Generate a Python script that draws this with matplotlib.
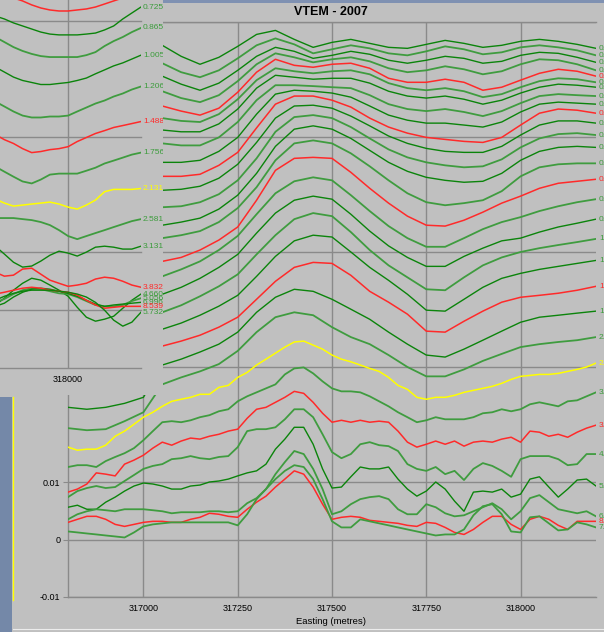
import matplotlib
matplotlib.use("Agg")
import matplotlib.pyplot as plt
from matplotlib.patches import Rectangle
from matplotlib.lines import Line2D
from matplotlib.transforms import ScaledTranslation
from matplotlib.ticker import NullLocator

plt.rcParams['font.family'] = ['Liberation Sans', 'DejaVu Sans']

BG = '#c0c0c0'
GRID = '#8a8a8a'
GREEN_DARK = '#0b840b'
GREEN_LIGHT = '#3f9c3f'
RED = '#ff2a2a'
YELLOW = '#ffff00'
LABEL_GREEN = '#3c9c3c'

# ---------------- main profile (VTEM - 2007) ----------------
# early channels are smooth: 50 m samples
easting = [316800, 316850, 316900, 316950, 317000, 317050, 317100, 317150,
           317200, 317250, 317300, 317350, 317400, 317450, 317500, 317550,
           317600, 317650, 317700, 317750, 317800, 317850, 317900, 317950,
           318000, 318050, 318100, 318150, 318200]

# late (noisy) channels: 25 m samples
easting_fine = [316800, 316825, 316850, 316875, 316900, 316925, 316950, 316975,
                317000, 317025, 317050, 317075, 317100, 317125, 317150, 317175,
                317200, 317225, 317250, 317275, 317300, 317325, 317350, 317375,
                317400, 317425, 317450, 317475, 317500, 317525, 317550, 317575,
                317600, 317625, 317650, 317675, 317700, 317725, 317750, 317775,
                317800, 317825, 317850, 317875, 317900, 317925, 317950, 317975,
                318000, 318025, 318050, 318075, 318100, 318125, 318150, 318175,
                318200]

ch01 = [66.5, 69.2, 70.6, 69.2, 66.5, 62.7, 50.3, 42.9, 49.3, 61.4, 78.0, 84.5, 70.6, 60.2, 66.5, 70.6, 65.2, 60.2, 59.0, 63.9, 69.2, 65.2, 60.2, 62.7, 67.9, 70.6, 67.9, 63.9, 59.0]
ch02 = [46.5, 48.3, 49.3, 48.3, 46.5, 43.8, 36.6, 33.1, 38.0, 48.3, 62.7, 72.0, 63.9, 53.4, 57.9, 62.7, 59.0, 53.4, 51.3, 55.6, 61.4, 57.9, 52.4, 54.5, 60.2, 62.7, 60.2, 56.7, 51.3]
ch03 = [36.6, 38.0, 38.8, 38.0, 35.8, 33.8, 28.8, 25.5, 29.4, 38.0, 50.3, 60.2, 55.6, 48.3, 51.3, 55.6, 52.4, 46.5, 43.8, 46.5, 50.3, 48.3, 43.8, 45.5, 51.3, 54.5, 53.4, 49.3, 44.6]
ch04 = [27.7, 28.8, 29.4, 28.2, 26.6, 25.0, 21.8, 20.1, 23.1, 30.6, 42.9, 53.4, 49.3, 44.6, 47.4, 49.3, 45.5, 39.6, 36.6, 38.0, 41.2, 38.8, 35.1, 37.3, 42.9, 47.4, 46.5, 42.9, 38.0]
ch05 = [20.9, 21.8, 22.2, 21.3, 20.1, 18.6, 16.8, 15.5, 17.8, 24.5, 36.6, 47.4, 42.0, 40.4, 42.9, 43.8, 39.6, 32.4, 29.9, 29.9, 31.8, 29.9, 25.5, 27.1, 31.2, 35.8, 38.8, 37.3, 33.8]
ch06 = [16.5, 17.1, 17.1, 16.5, 15.5, 14.6, 13.8, 13.5, 15.8, 21.3, 31.2, 39.6, 37.3, 35.8, 37.3, 38.0, 35.1, 29.4, 26.6, 25.5, 26.6, 25.0, 22.2, 23.6, 27.1, 30.6, 32.4, 31.8, 29.9]
ch07 = [13.0, 13.5, 13.5, 13.0, 12.2, 11.5, 11.1, 11.1, 13.0, 17.5, 26.6, 34.4, 33.1, 31.8, 32.4, 32.4, 29.4, 25.0, 22.7, 21.8, 22.7, 21.3, 19.3, 20.9, 24.1, 27.1, 28.8, 28.2, 27.1]
ch08 = [9.92, 10.4, 10.4, 9.92, 9.34, 8.80, 8.45, 8.45, 9.92, 13.5, 20.9, 28.2, 28.2, 27.7, 27.1, 26.6, 23.1, 19.3, 17.5, 16.8, 17.5, 16.5, 15.2, 16.8, 19.7, 22.7, 23.6, 23.1, 22.7]
ch09 = [6.92, 7.21, 7.21, 6.92, 6.52, 6.02, 6.02, 6.27, 7.50, 9.92, 15.8, 23.6, 25.5, 25.0, 24.1, 22.2, 18.6, 15.5, 14.0, 13.2, 13.2, 12.7, 12.2, 13.5, 16.5, 19.3, 20.1, 19.7, 19.3]
ch10 = [4.93, 5.13, 5.13, 4.93, 4.74, 4.55, 4.55, 4.74, 5.67, 7.35, 12.0, 19.3, 22.7, 22.7, 20.9, 18.2, 14.6, 12.2, 10.8, 9.92, 9.53, 9.16, 8.97, 9.92, 12.7, 16.1, 17.5, 17.1, 16.1]
ch11 = [3.73, 3.88, 3.88, 3.73, 3.58, 3.44, 3.51, 3.73, 4.38, 5.79, 8.97, 14.6, 18.6, 18.9, 17.8, 15.2, 12.5, 10.2, 8.80, 7.96, 7.50, 7.35, 7.35, 8.29, 10.4, 12.7, 13.8, 13.8, 13.2]
ch12 = [2.66, 2.77, 2.77, 2.66, 2.55, 2.45, 2.50, 2.71, 3.18, 4.20, 6.52, 11.1, 14.9, 15.5, 14.6, 12.2, 9.72, 7.80, 6.65, 6.02, 5.67, 5.45, 5.56, 6.39, 8.12, 9.72, 10.6, 10.8, 10.4]
ch13 = [1.86, 1.93, 1.93, 1.86, 1.78, 1.71, 1.82, 1.97, 2.36, 3.12, 4.83, 8.29, 11.7, 12.5, 11.7, 9.72, 7.65, 6.02, 5.03, 4.46, 4.20, 4.04, 4.12, 4.83, 6.27, 7.50, 8.12, 8.29, 8.12]
ch14 = [1.43, 1.49, 1.49, 1.43, 1.38, 1.32, 1.40, 1.52, 1.82, 2.41, 3.66, 6.27, 8.80, 9.34, 8.80, 7.21, 5.56, 4.20, 3.24, 2.71, 2.55, 2.66, 2.82, 3.38, 4.55, 5.45, 5.79, 5.90, 5.90]
ch15 = [0.897, 0.934, 0.934, 0.897, 0.862, 0.829, 0.897, 1.04, 1.27, 1.65, 2.82, 5.13, 6.52, 6.65, 6.52, 4.93, 3.58, 2.66, 2.05, 1.71, 1.68, 1.89, 2.22, 2.66, 3.06, 3.58, 3.96, 4.12, 4.29]
ch16 = [0.639, 0.665, 0.665, 0.639, 0.627, 0.614, 0.706, 0.829, 1.04, 1.38, 2.13, 3.24, 4.12, 4.46, 4.20, 3.12, 2.27, 1.68, 1.32, 1.11, 1.11, 1.32, 1.58, 1.82, 2.01, 2.27, 2.50, 2.71, 2.88]
ch17 = [0.455, 0.474, 0.474, 0.455, 0.438, 0.429, 0.493, 0.590, 0.735, 0.953, 1.46, 2.18, 2.82, 3.06, 2.88, 2.13, 1.52, 1.13, 0.897, 0.750, 0.750, 0.916, 1.08, 1.25, 1.32, 1.49, 1.65, 1.78, 1.93]
ch18 = [0.318, 0.331, 0.331, 0.318, 0.306, 0.299, 0.344, 0.412, 0.503, 0.639, 0.953, 1.40, 1.93, 2.18, 2.05, 1.49, 1.04, 0.765, 0.602, 0.474, 0.465, 0.602, 0.765, 0.897, 1.00, 1.08, 1.15, 1.22, 1.30]
ch19 = [0.227, 0.236, 0.236, 0.227, 0.218, 0.213, 0.241, 0.282, 0.338, 0.420, 0.614, 0.916, 1.25, 1.40, 1.35, 1.00, 0.735, 0.567, 0.429, 0.312, 0.306, 0.388, 0.493, 0.590, 0.652, 0.706, 0.750, 0.796, 0.845]
ch20 = [0.113, 0.117, 0.122, 0.132, 0.143, 0.152, 0.168, 0.189, 0.222, 0.271, 0.388, 0.556, 0.735, 0.812, 0.796, 0.627, 0.455, 0.366, 0.288, 0.205, 0.201, 0.250, 0.306, 0.366, 0.404, 0.420, 0.438, 0.465, 0.503]
ch21 = [0.0446, 0.0429, 0.0446, 0.0483, 0.0545, 0.104, 0.117, 0.135, 0.158, 0.201, 0.299, 0.404, 0.474, 0.455, 0.388, 0.318, 0.260, 0.201, 0.158, 0.127, 0.122, 0.143, 0.171, 0.205, 0.245, 0.271, 0.282, 0.294, 0.306]
ch22 = [0.0294, 0.0282, 0.0288, 0.0338, 0.0404, 0.0706, 0.0812, 0.0916, 0.106, 0.138, 0.201, 0.271, 0.299, 0.282, 0.222, 0.182, 0.158, 0.127, 0.100, 0.0829, 0.0829, 0.0953, 0.113, 0.130, 0.149, 0.158, 0.165, 0.171, 0.182]

ch23 = [0.0201, 0.0189, 0.0193, 0.0193, 0.0209, 0.0250, 0.0277, 0.0318, 0.0366, 0.0404,
        0.0455, 0.0503, 0.0524, 0.0545, 0.0579, 0.0579, 0.0665, 0.0692, 0.0812, 0.0897,
        0.104, 0.117, 0.132, 0.149, 0.165, 0.168, 0.155, 0.143, 0.127, 0.117,
        0.111, 0.104, 0.0972, 0.0916, 0.0812, 0.0692, 0.0639, 0.0545, 0.0524, 0.0545,
        0.0545, 0.0567, 0.0602, 0.0627, 0.0652, 0.0679, 0.0721, 0.0780, 0.0829, 0.0845,
        0.0862, 0.0862, 0.0880, 0.0916, 0.0953, 0.100, 0.108]
ch24 = [0.0135, 0.0140, 0.0140, 0.0135, 0.0152, 0.0165, 0.0178, 0.0197, 0.0231, 0.0277,
        0.0331, 0.0338, 0.0331, 0.0344, 0.0366, 0.0381, 0.0412, 0.0429, 0.0503, 0.0556,
        0.0602, 0.0652, 0.0706, 0.0862, 0.0972, 0.0992, 0.0880, 0.0750, 0.0652, 0.0614,
        0.0614, 0.0602, 0.0556, 0.0503, 0.0455, 0.0404, 0.0366, 0.0331, 0.0344, 0.0366,
        0.0351, 0.0351, 0.0351, 0.0366, 0.0396, 0.0404, 0.0429, 0.0412, 0.0429, 0.0474,
        0.0493, 0.0474, 0.0455, 0.0503, 0.0513, 0.0556, 0.0602]
ch25 = [0.00824, 0.00877, 0.00965, 0.0120, 0.0117, 0.0113, 0.0143, 0.0155, 0.0171, 0.0197,
        0.0222, 0.0209, 0.0227, 0.0241, 0.0236, 0.0250, 0.0260, 0.0277, 0.0288, 0.0358,
        0.0429, 0.0446, 0.0493, 0.0545, 0.0614, 0.0590, 0.0493, 0.0396, 0.0331, 0.0344,
        0.0331, 0.0344, 0.0331, 0.0338, 0.0331, 0.0277, 0.0222, 0.0201, 0.0213, 0.0227,
        0.0213, 0.0227, 0.0205, 0.0222, 0.0227, 0.0222, 0.0236, 0.0245, 0.0222, 0.0277,
        0.0271, 0.0250, 0.0260, 0.0245, 0.0271, 0.0294, 0.0312]
ch26 = [0.00737, 0.00842, 0.00895, 0.00930, 0.00895, 0.00912, 0.0102, 0.0115, 0.0130, 0.0138,
        0.0143, 0.0158, 0.0161, 0.0168, 0.0161, 0.0158, 0.0165, 0.0168, 0.0201, 0.0277,
        0.0288, 0.0288, 0.0299, 0.0351, 0.0429, 0.0429, 0.0366, 0.0260, 0.0182, 0.0161,
        0.0175, 0.0213, 0.0222, 0.0209, 0.0205, 0.0186, 0.0143, 0.0130, 0.0125, 0.0135,
        0.0117, 0.0125, 0.0104, 0.0130, 0.0146, 0.0138, 0.0125, 0.0111, 0.0158, 0.0168,
        0.0168, 0.0168, 0.0158, 0.0140, 0.0143, 0.0175, 0.0175]
ch27 = [0.00561, 0.00596, 0.00526, 0.00526, 0.00649, 0.00737, 0.00842, 0.00930, 0.00982, 0.00965,
        0.00930, 0.00877, 0.00877, 0.00930, 0.00947, 0.0100, 0.0102, 0.0106, 0.0113, 0.0120,
        0.0125, 0.0143, 0.0193, 0.0236, 0.0299, 0.0299, 0.0213, 0.0130, 0.00895, 0.00912,
        0.0111, 0.0135, 0.0130, 0.0130, 0.0135, 0.0106, 0.00877, 0.00754, 0.00842, 0.0100,
        0.00877, 0.00667, 0.00491, 0.00824, 0.00842, 0.00824, 0.00877, 0.00737, 0.00789, 0.0106,
        0.0111, 0.00912, 0.00737, 0.00877, 0.0104, 0.0106, 0.00930]
ch28 = [0.00351, 0.00439, 0.00491, 0.00526, 0.00509, 0.00491, 0.00526, 0.00526, 0.00526, 0.00509,
        0.00491, 0.00456, 0.00474, 0.00474, 0.00474, 0.00491, 0.00491, 0.00474, 0.00491, 0.00631,
        0.00719, 0.00877, 0.0117, 0.0149, 0.0186, 0.0175, 0.0130, 0.00877, 0.00439, 0.00491,
        0.00614, 0.00702, 0.00737, 0.00754, 0.00702, 0.00526, 0.00439, 0.00439, 0.00614, 0.00561,
        0.00456, 0.00403, 0.00421, 0.00491, 0.00561, 0.00631, 0.00526, 0.00351, 0.00491, 0.00719,
        0.00772, 0.00649, 0.00526, 0.00491, 0.00456, 0.00491, 0.00403]
ch29 = [0.00298, 0.00351, 0.00403, 0.00403, 0.00351, 0.00263, 0.00228, 0.00263, 0.00298, 0.00316,
        0.00316, 0.00298, 0.00298, 0.00351, 0.00386, 0.00456, 0.00439, 0.00403, 0.00386, 0.00526,
        0.00649, 0.00754, 0.00912, 0.0106, 0.0125, 0.0117, 0.00912, 0.00614, 0.00351, 0.00386,
        0.00403, 0.00386, 0.00333, 0.00316, 0.00298, 0.00281, 0.00246, 0.00228, 0.00298, 0.00281,
        0.00210, 0.00123, 0.00088, 0.00175, 0.00298, 0.00403, 0.00403, 0.00263, 0.00175, 0.00351,
        0.00403, 0.00351, 0.00246, 0.00175, 0.00316, 0.00316, 0.00316]
ch30 = [0.00140, 0.00123, 0.00105, 0.00088, 0.00070, 0.00053, 0.00035, 0.00123, 0.00228, 0.00263,
        0.00281, 0.00298, 0.00298, 0.00298, 0.00298, 0.00298, 0.00298, 0.00298, 0.00246, 0.00439,
        0.00702, 0.00877, 0.0106, 0.0125, 0.0140, 0.0135, 0.0106, 0.00702, 0.00316, 0.00210,
        0.00210, 0.00351, 0.00316, 0.00281, 0.00246, 0.00210, 0.00175, 0.00140, 0.00105, 0.00070,
        0.00088, 0.00088, 0.00175, 0.00421, 0.00579, 0.00614, 0.00439, 0.00140, 0.00123, 0.00386,
        0.00403, 0.00281, 0.00158, 0.00175, 0.00298, 0.00263, 0.00210]

main_channels = [ch01, ch02, ch03, ch04, ch05, ch06, ch07, ch08, ch09, ch10,
                 ch11, ch12, ch13, ch14, ch15, ch16, ch17, ch18, ch19, ch20,
                 ch21, ch22, ch23, ch24, ch25, ch26, ch27, ch28, ch29, ch30]
main_x = [easting] * 22 + [easting_fine] * 8

main_labels = ['0.0990', '0.1200', '0.1410', '0.1670', '0.1980', '0.2340',
               '0.2810', '0.3390', '0.3960', '0.4440', '0.4870', '0.5340',
               '0.5860', '0.6440', '0.6800', '0.7256', '0.8650', '1.0053',
               '1.2066', '1.4888', '1.756', '2.1313', '2.5815', '3.1316',
               '3.832', '4.6602', '5.7322', '6.9961', '8.5393', '7.0889']

main_colours = ['g', 'g', 'g', 'g', 'r', 'g', 'g', 'g', 'g', 'r',
                'g', 'g', 'g', 'g', 'r', 'g', 'g', 'g', 'g', 'r',
                'g', 'g', 'y', 'g', 'r', 'g', 'g', 'g', 'r', 'g']

# ---------------- second profile window (around 318000) ----------------
left_easting = [317800, 317825, 317850, 317875, 317900, 317925, 317950, 317975,
                318000, 318025, 318050, 318075, 318100, 318125, 318150, 318175,
                318200]

lc00 = [6.14, 5.45, 5.03, 4.74, 4.38, 4.12, 3.96, 3.88, 3.88, 3.96, 4.04, 4.20, 4.46, 4.74, 5.03, 5.45, 5.90]
lc01 = [3.51, 3.31, 3.06, 2.88, 2.71, 2.55, 2.45, 2.41, 2.41, 2.41, 2.45, 2.50, 2.66, 2.88, 3.31, 3.73, 4.20]
lc02 = [2.31, 2.09, 1.89, 1.75, 1.65, 1.58, 1.55, 1.55, 1.55, 1.55, 1.61, 1.71, 1.93, 2.13, 2.31, 2.55, 2.77]
lc03 = [1.27, 1.15, 1.04, 0.972, 0.934, 0.897, 0.897, 0.916, 0.934, 0.972, 1.02, 1.11, 1.20, 1.30, 1.38, 1.49, 1.61]
lc04 = [0.639, 0.579, 0.524, 0.483, 0.465, 0.465, 0.474, 0.474, 0.483, 0.524, 0.567, 0.614, 0.652, 0.706, 0.750, 0.812, 0.862]
lc05 = [0.331, 0.299, 0.277, 0.250, 0.231, 0.236, 0.245, 0.250, 0.260, 0.288, 0.312, 0.338, 0.358, 0.381, 0.396, 0.412, 0.429]
lc06 = [0.175, 0.158, 0.143, 0.130, 0.125, 0.135, 0.149, 0.152, 0.152, 0.152, 0.161, 0.171, 0.186, 0.197, 0.209, 0.222, 0.231]
lc07 = [0.0916, 0.0845, 0.0796, 0.0812, 0.0829, 0.0845, 0.0862, 0.0829, 0.0780, 0.0750, 0.0812, 0.0897, 0.106, 0.111, 0.111, 0.111, 0.113]
lc08 = [0.0627, 0.0627, 0.0627, 0.0614, 0.0602, 0.0579, 0.0545, 0.0493, 0.0438, 0.0412, 0.0438, 0.0465, 0.0493, 0.0524, 0.0556, 0.0590, 0.0614]
lc09 = [0.0358, 0.0306, 0.0260, 0.0236, 0.0241, 0.0266, 0.0299, 0.0324, 0.0312, 0.0294, 0.0318, 0.0351, 0.0358, 0.0351, 0.0338, 0.0338, 0.0358]
lc10 = [0.0213, 0.0197, 0.0201, 0.0227, 0.0231, 0.0205, 0.0182, 0.0171, 0.0161, 0.0165, 0.0171, 0.0186, 0.0193, 0.0189, 0.0178, 0.0165, 0.0158]
lc11 = [0.0111, 0.0127, 0.0149, 0.0171, 0.0189, 0.0182, 0.0165, 0.0149, 0.0132, 0.0106, 0.00879, 0.00810, 0.00845, 0.00896, 0.0104, 0.0122, 0.0138]
lc12 = [0.0117, 0.0125, 0.0138, 0.0149, 0.0155, 0.0152, 0.0146, 0.0140, 0.0138, 0.0130, 0.0120, 0.0111, 0.0108, 0.0108, 0.0111, 0.0120, 0.0127]
lc13 = [0.0108, 0.0115, 0.0130, 0.0143, 0.0152, 0.0155, 0.0152, 0.0146, 0.0140, 0.0132, 0.0122, 0.0113, 0.0108, 0.0111, 0.0113, 0.0115, 0.0117]
lc14 = [0.0138, 0.0143, 0.0149, 0.0155, 0.0158, 0.0155, 0.0149, 0.0146, 0.0143, 0.0135, 0.0122, 0.0111, 0.0104, 0.0106, 0.0108, 0.0108, 0.0108]
lc15 = [0.0122, 0.0132, 0.0140, 0.0146, 0.0149, 0.0149, 0.0149, 0.0146, 0.0143, 0.0138, 0.0130, 0.0117, 0.0100, 0.00828, 0.00724, 0.00793, 0.00965]

left_channels = [lc00, lc01, lc02, lc03, lc04, lc05, lc06, lc07, lc08, lc09,
                 lc10, lc11, lc12, lc13, lc14, lc15]
left_labels = ['0.6040', '0.7256', '0.8650', '1.0053', '1.2066', '1.4888',
               '1.756', '2.1313', '2.5815', '3.1316', '3.832', '4.6602',
               '5.0561', '6.9961', '8.5393', '5.7322']
left_colours = ['r', 'g', 'g', 'g', 'g', 'r', 'g', 'y', 'g', 'g',
                'r', 'g', 'g', 'g', 'r', 'g']
left_grid_levels = [0.0, 0.01, 0.0316, 0.316, 3.16]

W, H = 604, 632


def fig_box(x0, y0, x1, y1):
    """Pixel box (origin top-left) -> figure-fraction rectangle."""
    return [x0 / W, 1 - y1 / H, (x1 - x0) / W, (y1 - y0) / H]


def line_style(code, i):
    if code == 'r':
        return RED, 1.1, RED
    if code == 'y':
        return YELLOW, 1.1, YELLOW
    if i % 2:
        return GREEN_LIGHT, 1.3, LABEL_GREEN
    return GREEN_DARK, 1.0, LABEL_GREEN


fig = plt.figure(figsize=(W / 100, H / 100), dpi=100, facecolor=BG)

# ---- main profile axes ----
ax = fig.add_axes(fig_box(68, 22, 596, 597))
ax.set_facecolor(BG)
ax.set_yscale('symlog', linthresh=0.01, linscale=0.45)
ax.set_xlim(316800, 318200)
ax.set_ylim(-0.01, 100)
ax.set_yticks([-0.01, 0, 0.01, 0.1, 1, 10, 100])
ax.set_yticklabels(['-0.01', '0', '0.01', '0.1', '1', '10', '100'])
ax.yaxis.set_minor_locator(NullLocator())
ax.set_xticks([317000, 317250, 317500, 317750, 318000])
ax.set_xticklabels(['317000', '317250', '317500', '317750', '318000'])
ax.grid(True, color=GRID, lw=1.0)
ax.set_axisbelow(True)
for side in ('top', 'bottom', 'left'):
    ax.spines[side].set_color(GRID)
    ax.spines[side].set_linewidth(1.0)
ax.spines['right'].set_visible(False)
ax.tick_params(axis='x', length=0, pad=5, labelsize=6.5)
ax.tick_params(axis='y', length=3.5, color=GRID, pad=2, labelsize=6.5)

for i, (xs, vals, code, lab) in enumerate(zip(main_x, main_channels, main_colours, main_labels)):
    col, lw, tcol = line_style(code, i)
    ax.plot(xs, vals, color=col, lw=lw, zorder=3)
    ax.annotate(lab, xy=(xs[-1], vals[-1]), xytext=(3, 0),
                textcoords='offset pixels', ha='left', va='center',
                fontsize=6, color=tcol, annotation_clip=False)

# ---- overlapping window: background ----
cov = fig.add_axes(fig_box(0, 0, 163, 395))
cov.set_facecolor(BG)
cov.set_xticks([])
cov.set_yticks([])
for s in cov.spines.values():
    s.set_visible(False)
cov.set_zorder(2)

# ---- overlapping window: profiles ----
lax = fig.add_axes(fig_box(0, 0, 141, 368))
lax.set_zorder(3)
lax.patch.set_visible(False)
lax.set_yscale('symlog', linthresh=0.01, linscale=0.45)
lax.set_xlim(317813, 318200)
lax.set_ylim(0, 4.83)
lax.set_xticks([])
lax.set_yticks([])
lax.yaxis.set_minor_locator(NullLocator())
for s in lax.spines.values():
    s.set_visible(False)
for lvl in left_grid_levels:
    lax.axhline(lvl, color=GRID, lw=1.0, clip_on=False, zorder=1)
lax.axvline(318000, color=GRID, lw=1.0, zorder=1)

shift = ScaledTranslation(2 / 100, 0, fig.dpi_scale_trans)
for i, (vals, code, lab) in enumerate(zip(left_channels, left_colours, left_labels)):
    col, lw, tcol = line_style(code, i + 1)
    lax.plot(left_easting, vals, color=col, lw=lw, zorder=3)
    cov.text(left_easting[-1], vals[-1], lab, transform=lax.transData + shift,
             ha='left', va='center', fontsize=6, color=tcol, clip_on=True)

fig.text(68 / W, 1 - 379 / H, '318000', ha='center', va='center',
         fontsize=6.5, zorder=6)

# ---- window chrome ----
fig.add_artist(Rectangle((0, 0), 12 / W, (H - 397) / H, transform=fig.transFigure,
                         facecolor='#7488a8', edgecolor='none', zorder=5))
fig.add_artist(Line2D([12.5 / W, 12.5 / W], [1 - 397 / H, 1 - 600 / H],
                      transform=fig.transFigure, color=YELLOW, lw=1.0, zorder=6))
fig.add_artist(Rectangle((163 / W, 1 - 3 / H), (W - 163) / W, 3 / H,
                         transform=fig.transFigure, facecolor='#7f91b2',
                         edgecolor='none', zorder=5))
fig.add_artist(Line2D([13 / W, 1.0], [1 - 628.5 / H, 1 - 628.5 / H],
                      transform=fig.transFigure, color='#ececec', lw=0.8, zorder=6))

fig.text(331 / W, 1 - 12 / H, 'VTEM - 2007', ha='center', va='center',
         fontsize=9, fontweight='bold', zorder=6)
fig.text(331 / W, 1 - 621 / H, 'Easting (metres)', ha='center', va='center',
         fontsize=6.8, zorder=6)

fig.savefig('out.png', dpi=100, facecolor=BG)
